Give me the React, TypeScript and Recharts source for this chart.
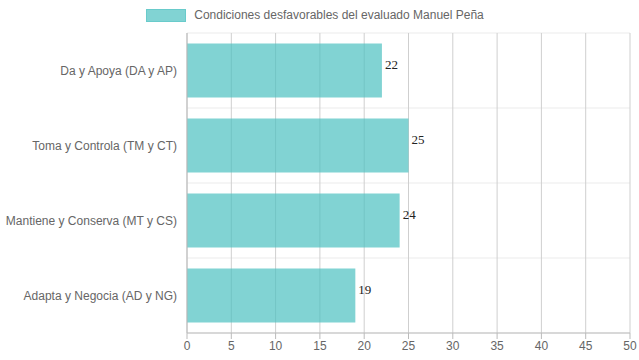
import React from "react";
import { BarChart, Bar, XAxis, YAxis, CartesianGrid, Legend, LabelList } from "recharts";

// categories and values
const categories = [
  "Da y Apoya (DA y AP)",
  "Toma y Controla (TM y CT)",
  "Mantiene y Conserva (MT y CS)",
  "Adapta y Negocia (AD y NG)",
];
const values = [22, 25, 24, 19];
const xTicks = [0, 5, 10, 15, 20, 25, 30, 35, 40, 45, 50];
const seriesName = "Condiciones desfavorables del evaluado Manuel Peña";

const data = categories.map((name, i) => ({ name, value: values[i] }));

const TEAL = "rgb(75,192,192)";
const SANS = "'Liberation Sans', Arial, sans-serif";

function LegendContent() {
  return (
    <div style={{ height: 25, display: "flex", alignItems: "flex-start", justifyContent: "center" }}>
      <span
        style={{
          display: "inline-block",
          width: 40,
          height: 13,
          boxSizing: "border-box",
          background: "rgba(75,192,192,0.7)",
          border: "1px solid rgba(75,192,192,0.45)",
          marginRight: 8,
          marginTop: 1,
        }}
      />
      <span style={{ fontSize: 12, color: "#666", fontFamily: SANS, lineHeight: "15px" }}>{seriesName}</span>
    </div>
  );
}

function CategoryTick(props: any) {
  const { x, y, payload } = props;
  return (
    <text x={x} y={y} textAnchor="end" dominantBaseline="central" fontSize={12} fill="#666" fontFamily={SANS}>
      {payload.value}
    </text>
  );
}

function ValueLabel(props: any) {
  const { x, y, width, height, value } = props;
  return (
    <text
      x={x + width + 3}
      y={y + height / 2 - 2}
      fontSize={13}
      fill="#222"
      fontFamily="'Liberation Serif', 'Times New Roman', serif"
    >
      {value}
    </text>
  );
}

export default function App() {
  return (
    <div style={{ position: "absolute", left: 0, top: 0, fontFamily: SANS }}>
      <BarChart
        width={639}
        height={360}
        data={data}
        layout="vertical"
        barCategoryGap="14%"
        margin={{ top: 8, right: 9, left: 0, bottom: 7 }}
      >
        <CartesianGrid vertical={false} stroke="#ebebeb"
          horizontalCoordinatesGenerator={({ offset }: any) =>
            categories.map((_, i) => offset.top + (i * offset.height) / categories.length).concat(offset.top + offset.height)
          }
        />
        <CartesianGrid horizontal={false} stroke="#cfcfcf" />
        <Legend verticalAlign="top" align="center" content={<LegendContent />} />
        <XAxis
          type="number"
          domain={[0, 50]}
          ticks={xTicks}
          interval={0}
          height={20}
          tickSize={6}
          tickMargin={2}
          stroke="#bbb"
          tick={{ fill: "#666", fontSize: 12, fontFamily: SANS }}
        />
        <YAxis
          type="category"
          dataKey="name"
          width={187}
          tickLine={false}
          tickSize={0}
          tickMargin={10}
          stroke="#bbb"
          tick={<CategoryTick />}
        />
        <Bar dataKey="value" name={seriesName} fill={TEAL} fillOpacity={0.7} isAnimationActive={false}>
          <LabelList dataKey="value" content={<ValueLabel />} />
        </Bar>
      </BarChart>
    </div>
  );
}
